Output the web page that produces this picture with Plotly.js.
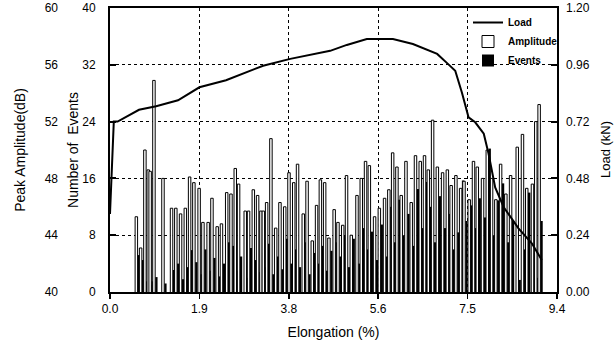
<!DOCTYPE html>
<html>
<head>
<meta charset="utf-8">
<script src="https://cdn.plot.ly/plotly-3.0.1.min.js"></script>
<style>html,body{margin:0;padding:0;background:#fff;}#chart{width:615px;height:355px;}</style>
</head>
<body>
<div id="chart"></div>
<script>
// ---- data ----
const elongation = [0.58,0.67,0.76,0.83,0.87,0.95,1.14,1.32,1.41,1.51,1.61,1.70,1.79,1.90,1.98,2.09,2.17,2.28,2.37,2.48,
  2.57,2.66,2.73,2.87,2.94,3.04,3.13,3.20,3.25,3.32,3.41,3.51,3.60,3.70,3.79,3.89,3.97,4.09,4.17,4.28,4.37,4.45,4.54,4.63,4.74,
  4.82,4.92,5.00,5.10,5.22,5.31,5.40,5.48,5.59,5.69,5.80,5.89,5.97,6.06,6.15,6.25,6.36,6.45,6.55,6.64,6.72,6.81,6.91,7.02,
  7.12,7.20,7.30,7.40,7.47,7.58,7.67,7.75,7.86,7.96,8.05,8.14,8.24,8.35,8.45,8.59,8.70,8.79,8.91,8.98,9.05];
const amplitude = [45.3,43.1,50.0,48.6,48.5,54.9,48.0,45.9,45.9,45.5,45.9,48.1,47.7,47.3,44.9,44.9,46.6,44.6,44.8,47.0,
  46.9,48.7,47.6,45.7,45.7,47.2,46.8,45.7,45.7,46.3,50.8,44.5,46.3,46.0,48.4,47.7,49.0,45.5,47.8,43.6,46.1,47.9,47.7,43.8,45.8,
  44.9,44.7,48.2,44.0,46.8,48.0,49.2,48.9,45.3,45.9,46.6,47.2,49.8,48.8,46.8,49.2,46.3,49.6,49.2,49.6,48.6,52.1,48.8,48.4,
  48.6,47.5,48.2,47.3,47.8,46.5,49.2,48.8,48.0,50.0,48.0,46.5,49.0,46.9,48.2,50.2,51.1,47.3,47.6,52.0,53.2];
const events = [5.2,4.5,1.5,1.0,1.5,2.1,1.2,3.1,4.0,1.8,3.5,5.9,4.2,2.5,6.0,3.0,4.8,2.2,4.0,7.0,
  6.5,3.0,5.0,2.0,6.2,4.5,2.8,5.5,3.5,6.8,2.5,5.0,3.2,7.5,4.0,6.0,3.5,7.0,2.5,5.5,4.0,6.5,3.0,5.8,7.0,
  5.0,8.0,3.5,7.5,4.0,9.0,6.0,8.5,4.5,9.5,5.0,12.0,7.0,13.0,8.0,11.0,6.5,14.5,9.0,15.5,12.0,7.0,13.5,9.0,
  11.0,6.0,8.4,15.7,10.0,12.2,9.0,13.2,10.5,20.2,8.0,12.9,15.3,7.0,10.0,1.7,6.0,14.0,5.5,2.0,10.0];
const loadX = [0,0.05,0.08,0.16,0.61,0.97,1.43,1.88,2.44,3.22,3.57,3.79,4.63,4.98,5.40,5.95,6.37,6.88,7.10,7.26,7.40,7.54,7.68,7.86,7.96,8.10,8.28,8.59,8.87,9.08];
const loadY = [0.33,0.62,0.72,0.72,0.77,0.785,0.81,0.865,0.895,0.956,0.973,0.985,1.019,1.044,1.069,1.069,1.048,1.006,0.965,0.935,0.843,0.738,0.717,0.669,0.585,0.442,0.358,0.269,0.206,0.135];
const xTickVals = [0,1.88,3.76,5.64,7.52,9.4];
const xTickText = ['0.0','1.9','3.8','5.6','7.5','9.4'];
const eventTicks = [0,8,16,24,32,40];
const ampTicks = [40,44,48,52,56,60];
const loadTicks = [0,0.24,0.48,0.72,0.96,1.20];
const loadTitle = 'Load (kN)';

// ---- chart ----
const FONT = 'Liberation Sans, Arial, sans-serif';
const traces = [
  {type:'scatter', mode:'lines', name:'Load', x:loadX, y:loadY, yaxis:'y3',
   line:{color:'#000', width:2}},
  {type:'bar', name:'Amplitude', x:elongation, y:amplitude, yaxis:'y2',
   width:0.052, offset:-0.052, marker:{color:'#fff', line:{color:'#000', width:1}}},
  {type:'bar', name:'Events', x:elongation, y:events, yaxis:'y',
   width:0.05, offset:0.0, marker:{color:'#000', line:{width:0}}}
];
const W = 615, mr = 58;
const paperW = W - mr;
const layout = {
  width:615, height:355,
  margin:{l:0, r:mr, t:8, b:63},
  paper_bgcolor:'#fff', plot_bgcolor:'#fff',
  font:{family:FONT, size:12, color:'#000'},
  showlegend:true,
  legend:{x:468/paperW, y:1.0, xanchor:'left', yanchor:'top', bgcolor:'rgba(0,0,0,0)',
    font:{family:FONT, size:10, color:'#000', weight:'bold'}, tracegroupgap:0, itemwidth:30},
  barmode:'overlay',
  xaxis:{domain:[110/paperW,1], range:[0,9.4], tickvals:xTickVals, ticktext:xTickText,
    showline:true, linecolor:'#000', linewidth:2, mirror:true,
    ticks:'outside', ticklen:5, tickwidth:1.5, tickcolor:'#000',
    showgrid:true, gridcolor:'#000', gridwidth:1, griddash:'dot', zeroline:false,
    tickfont:{size:12}, title:{text:'Elongation (%)', font:{size:14}, standoff:12}},
  yaxis:{range:[0,40], tickvals:eventTicks, showline:true, linecolor:'#000', linewidth:2, mirror:true,
    ticks:'inside', ticklen:6, tickwidth:2, tickcolor:'#000', ticklabelstandoff:10,
    showgrid:true, gridcolor:'#000', gridwidth:1, griddash:'dot', zeroline:false,
    tickfont:{size:12}, title:{text:'Number of  Events', font:{size:14}, standoff:0}},
  yaxis2:{range:[40,60], tickvals:ampTicks, overlaying:'y', anchor:'free', position:58/paperW, side:'left',
    showline:false, ticks:'', showgrid:false, zeroline:false,
    tickfont:{size:12}, title:{text:'Peak Amplitude(dB)', font:{size:14}, standoff:14}},
  yaxis3:{range:[0,1.2], tickvals:loadTicks, tickformat:'.2f', overlaying:'y', side:'right', anchor:'x',
    showline:false, ticks:'inside', ticklen:6, tickwidth:2, tickcolor:'#000', ticklabelstandoff:8,
    showgrid:false, zeroline:false, tickfont:{size:12}},
  annotations:[{text:loadTitle, xref:'paper', yref:'paper', x:(605)/paperW, y:0.5,
    xanchor:'center', yanchor:'middle', textangle:-90, showarrow:false, font:{family:FONT, size:13, color:'#000'}}]
};
Plotly.newPlot('chart', traces, layout, {displayModeBar:false, staticPlot:true});
</script>
</body>
</html>
